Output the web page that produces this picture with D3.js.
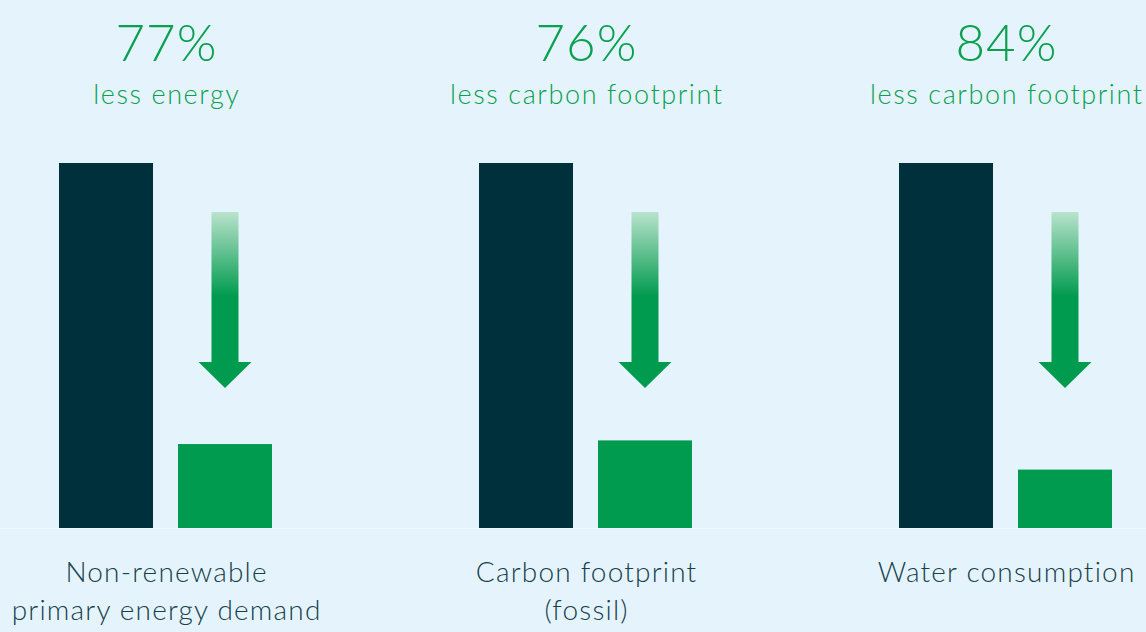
<!DOCTYPE html>
<html>
<head>
<meta charset="UTF-8">
<title>Reduction chart</title>
<script src="https://cdn.jsdelivr.net/npm/d3@7"></script>
<style>
  html, body { margin: 0; padding: 0; background: #e5f4fc; }
  svg { display: block; font-family: Lato, "Open Sans", sans-serif; }
</style>
</head>
<body>
<script>
// data
var categories = ["Non-renewable\nprimary energy demand", "Carbon footprint\n(fossil)", "Water consumption"];
var series = ["conventional", "new"];
var conventional = [100, 100, 100];
var reduced = [23, 24, 16];
var percentLabels = ["77%", "76%", "84%"];
var subLabels = ["less energy", "less carbon footprint", "less carbon footprint"];

var W = 1146, H = 632;
var colors = { conventional: "#01303d", new: "#009b4e" };

var svg = d3.select("body").append("svg")
  .attr("width", W)
  .attr("height", H);

svg.append("rect").attr("width", W).attr("height", H).attr("fill", "#e5f4fc");

// arrow gradient
var defs = svg.append("defs");
var grad = defs.append("linearGradient")
  .attr("id", "arrowGrad")
  .attr("x1", 0).attr("y1", 0).attr("x2", 0).attr("y2", 1);
grad.append("stop").attr("offset", "0%").attr("stop-color", "#b9e3cc");
grad.append("stop").attr("offset", "48%").attr("stop-color", "#009b4e");
grad.append("stop").attr("offset", "100%").attr("stop-color", "#009b4e");

var x0 = d3.scaleBand().domain(categories).range([-44, 1216]).padding(0);
var x1 = d3.scaleBand().domain(series).range([0, 213]).paddingInner(0.21).paddingOuter(0);
var y = d3.scaleLinear().domain([0, 100]).range([528, 163]);

// baseline
svg.append("line")
  .attr("x1", 0).attr("x2", W)
  .attr("y1", y(0) + 0.5).attr("y2", y(0) + 0.5)
  .attr("stroke", "#eef8fd").attr("stroke-width", 1);

var groups = svg.selectAll("g.group")
  .data(categories)
  .enter().append("g")
  .attr("class", "group")
  .attr("transform", function (d) { return "translate(" + (x0(d) + x0.bandwidth() / 2 - 107) + ",0)"; });

groups.append("rect")
  .attr("x", x1("conventional"))
  .attr("width", x1.bandwidth())
  .attr("y", function (d, i) { return y(conventional[i]); })
  .attr("height", function (d, i) { return y(0) - y(conventional[i]); })
  .attr("fill", colors.conventional);

groups.append("rect")
  .attr("x", x1("new"))
  .attr("width", x1.bandwidth())
  .attr("y", function (d, i) { return y(reduced[i]); })
  .attr("height", function (d, i) { return y(0) - y(reduced[i]); })
  .attr("fill", colors.new);

// arrows above green bars
groups.append("path")
  .attr("transform", "translate(" + (x1("new") + x1.bandwidth() / 2) + ",0)")
  .attr("d", "M-13.5,212 L13.5,212 L13.5,362 L26.5,362 L0,388 L-26.5,362 L-13.5,362 Z")
  .attr("fill", "url(#arrowGrad)");

// percentages
groups.append("text")
  .attr("x", 107.5)
  .attr("y", 61)
  .attr("text-anchor", "middle")
  .attr("font-size", 51)
  .attr("font-weight", 300)
  .attr("letter-spacing", 1)
  .attr("fill", "#0aa04f")
  .text(function (d, i) { return percentLabels[i]; });

groups.append("text")
  .attr("x", 107.8)
  .attr("y", 104)
  .attr("text-anchor", "middle")
  .attr("font-size", 27)
  .attr("font-weight", 300)
  .attr("letter-spacing", 1.6)
  .attr("fill", "#0aa04f")
  .text(function (d, i) { return subLabels[i]; });

// category labels
groups.each(function (d) {
  var lines = d.split("\n");
  var t = d3.select(this).append("text")
    .attr("text-anchor", "middle")
    .attr("font-size", 28)
    .attr("font-weight", 300)
    .attr("letter-spacing", 1.2)
    .attr("fill", "#16414c");
  lines.forEach(function (l, k) {
    t.append("tspan").attr("x", 107.6).attr("y", 582 + k * 38).text(l);
  });
});
</script>
</body>
</html>
